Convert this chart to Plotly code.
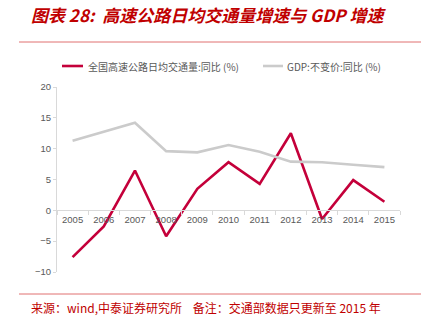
import plotly.graph_objects as go

years = ["2005", "2006", "2007", "2008", "2009", "2010", "2011", "2012", "2013", "2014", "2015"]
traffic_growth = [-7.6, -2.6, 6.45, -4.2, 3.5, 7.8, 4.3, 12.5, -1.4, 4.9, 1.4]
gdp_growth = [11.3, 12.7, 14.2, 9.6, 9.4, 10.6, 9.5, 7.9, 7.8, 7.4, 7.0]
series_names = ["全国高速公路日均交通量:同比 (%)", "GDP:不变价:同比 (%)"]
title_text = "图表 28:  高速公路日均交通量增速与 GDP 增速"
footer_text = "来源：wind,中泰证券研究所    备注：交通部数据只更新至 2015 年"

W, H = 434, 325
L, R, T, B = 57, 400, 87, 272


def px(x):
    return (x - L) / (R - L)


def py(y):
    return (B - y) / (B - T)


RED = "#C4003A"
GRAY_LINE = "#CBCBCB"
AX = "#D9D9D9"
TXT = "#595959"
CJK = "Noto Sans CJK SC"

fig = go.Figure()
fig.add_trace(go.Scatter(x=years, y=traffic_growth, mode="lines", name=series_names[0],
                         line=dict(color=RED, width=2.6), showlegend=False))
fig.add_trace(go.Scatter(x=years, y=gdp_growth, mode="lines", name=series_names[1],
                         line=dict(color=GRAY_LINE, width=2.6), showlegend=False))

fig.update_layout(
    width=W, height=H,
    margin=dict(l=L, r=W - R, t=T, b=H - B),
    paper_bgcolor="white", plot_bgcolor="white",
    font=dict(family="Liberation Sans, Arial", color=TXT, size=9),
    xaxis=dict(type="category", range=[-0.5, 10.5], anchor="free", position=1/3,
               showline=True, linecolor=AX, linewidth=1, ticks="outside",
               tickson="boundaries", ticklen=4, tickcolor=AX, showgrid=False,
               tickfont=dict(size=9.5, color=TXT), zeroline=False),
    yaxis=dict(range=[-10, 20], dtick=5, showline=True, linecolor=AX, linewidth=1,
               ticks="outside", ticklen=3, tickcolor=AX, showgrid=False,
               zeroline=False, tickfont=dict(size=9.5, color=TXT)),
)

# legend (custom drawn)
leg_y = 66
fig.add_shape(type="line", xref="paper", yref="paper", x0=px(62), x1=px(83),
              y0=py(leg_y), y1=py(leg_y), line=dict(color=RED, width=2.6))
fig.add_annotation(xref="paper", yref="paper", x=px(86), y=py(leg_y), text=series_names[0],
                   showarrow=False, xanchor="left", yanchor="middle",
                   font=dict(family=CJK, size=10, color=TXT))
fig.add_shape(type="line", xref="paper", yref="paper", x0=px(263), x1=px(283),
              y0=py(leg_y), y1=py(leg_y), line=dict(color=GRAY_LINE, width=2.6))
fig.add_annotation(xref="paper", yref="paper", x=px(285), y=py(leg_y), text=series_names[1],
                   showarrow=False, xanchor="left", yanchor="middle",
                   font=dict(family=CJK, size=10, color=TXT))

# title
fig.add_annotation(xref="paper", yref="paper", x=px(30), y=py(1), text="<b><i>" + title_text + "</i></b>",
                   showarrow=False, xanchor="left", yanchor="top", borderpad=0,
                   font=dict(family=CJK, size=17, color="#C00000"))
fig.add_shape(type="line", xref="paper", yref="paper", x0=px(19), x1=px(421),
              y0=py(42), y1=py(42), line=dict(color="#E07070", width=1))
# footer
fig.add_shape(type="line", xref="paper", yref="paper", x0=px(19), x1=px(421),
              y0=py(294), y1=py(294), line=dict(color="#E07070", width=1))
fig.add_annotation(xref="paper", yref="paper", x=px(29), y=py(307), text=footer_text,
                   showarrow=False, xanchor="left", yanchor="middle",
                   font=dict(family=CJK, size=12, color="#C00000"))

fig.write_html("out.html")
